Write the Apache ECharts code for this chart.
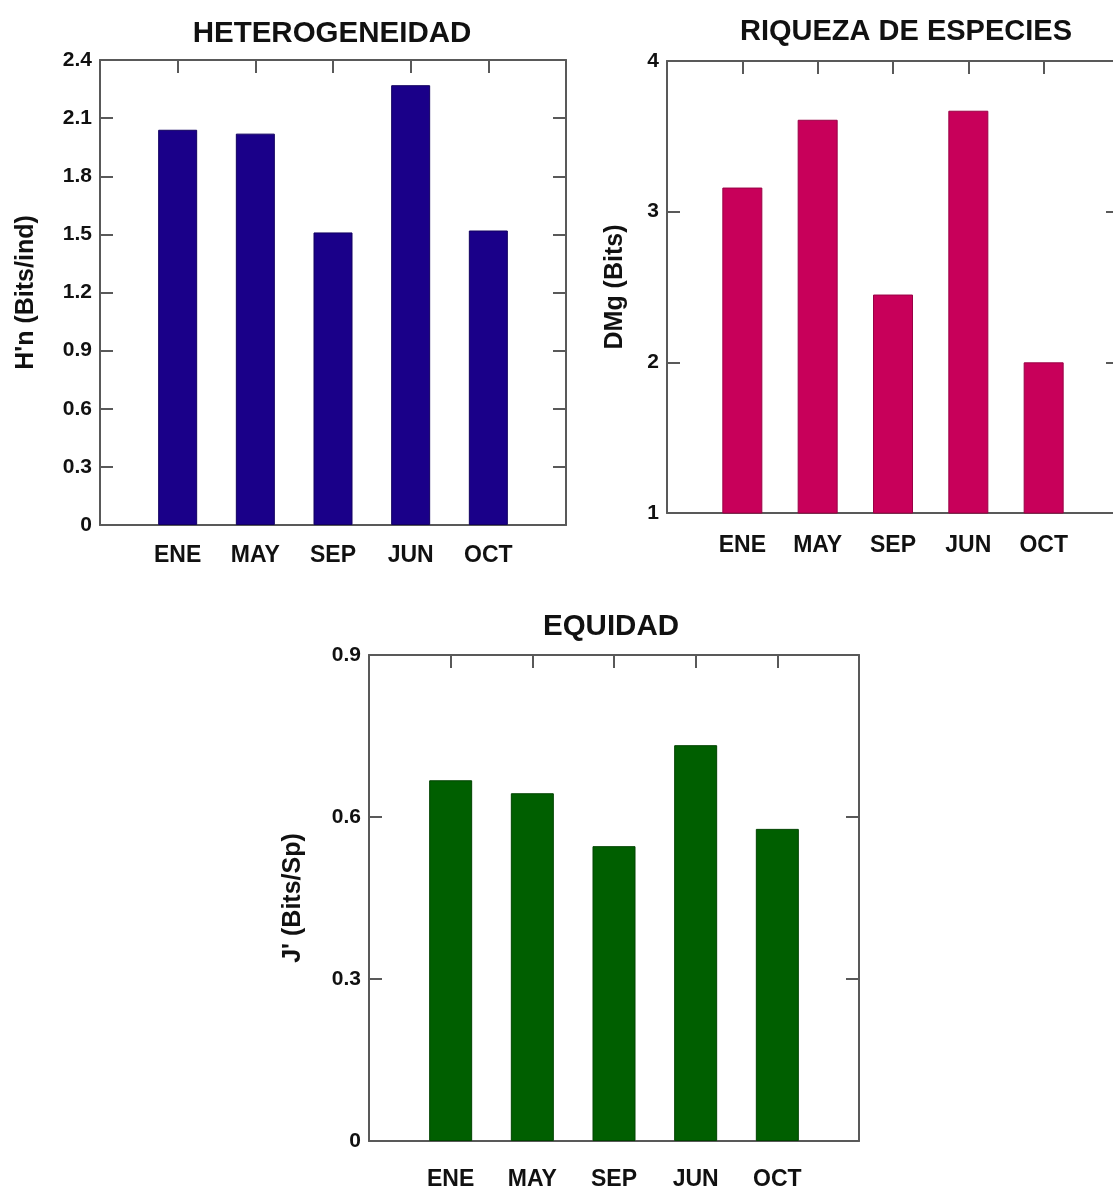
<!DOCTYPE html>
<html>
<head>
<meta charset="utf-8">
<script src="https://cdn.jsdelivr.net/npm/echarts@6/dist/echarts.min.js"></script>
<style>
  html, body { margin: 0; padding: 0; background: #ffffff; overflow: hidden; }
  /* canvas runs a little past the right edge so the richness frame is cropped there */
  #chart { width: 1125px; height: 1191px; }
</style>
</head>
<body>
<div id="chart"></div>
<script>
// Sampling months (in plotting order)
const months = ['ENE', 'MAY', 'SEP', 'JUN', 'OCT'];

// Shannon heterogeneity H'n (Bits/ind)
const heterogeneidad = [2.04, 2.02, 1.51, 2.27, 1.52];
// Margalef species richness DMg (Bits)
const riqueza = [3.16, 3.61, 2.45, 3.67, 2.00];
// Pielou evenness J' (Bits/Sp)
const equidad = [0.668, 0.644, 0.546, 0.733, 0.578];

// Y-axis ranges / tick steps for each panel
const hTicks = { min: 0, max: 2.4, step: 0.3 };
const rTicks = { min: 1, max: 4, step: 1 };
const eTicks = { min: 0, max: 0.9, step: 0.3 };

const FONT = '"Liberation Sans", Arial, sans-serif';
const AXIS_COLOR = '#595959';

const panels = [
  { title: 'HETEROGENEIDAD', name: "H'n (Bits/ind)", data: heterogeneidad, ticks: hTicks,
    color: '#1a0089', border: '#120060', grid: { left: 100, top: 60, width: 466, height: 465 },
    titlePos: { x: 327, y: 14 }, titleSize: 29.5, nameGap: 61, labelGap: 19, barWidth: 39 },
  { title: 'RIQUEZA DE ESPECIES', name: 'DMg (Bits)', data: riqueza, ticks: rTicks,
    color: '#c8005a', border: '#9a0045', grid: { left: 667, top: 61, width: 452, height: 452 },
    titlePos: { x: 901, y: 12 }, titleSize: 29, nameGap: 39, labelGap: 21, barWidth: 40 },
  { title: 'EQUIDAD', name: "J' (Bits/Sp)", data: equidad, ticks: eTicks,
    color: '#005f00', border: '#004400', grid: { left: 369, top: 655, width: 490, height: 486 },
    titlePos: { x: 606, y: 607 }, titleSize: 29.5, nameGap: 63, labelGap: 27, barWidth: 43 }
];

const option = {
  backgroundColor: '#ffffff',
  animation: false,
  title: [], grid: [], xAxis: [], yAxis: [], series: []
};

panels.forEach((p, i) => {
  option.title.push({
    text: p.title, left: p.titlePos.x, top: p.titlePos.y, textAlign: 'center',
    textStyle: { fontFamily: FONT, fontWeight: 'bold', fontSize: p.titleSize, color: '#111' }
  });
  option.grid.push(Object.assign({ containLabel: false }, p.grid));

  const lineStyle = { color: AXIS_COLOR, width: 2 };
  const frameLine = { show: true, onZero: false, lineStyle };
  // bottom x-axis with month labels, no ticks
  option.xAxis.push({
    type: 'value', gridIndex: i, position: 'bottom', min: 0, max: months.length + 1, interval: 1,
    axisLine: frameLine, axisTick: { show: false }, splitLine: { show: false },
    axisLabel: {
      margin: p.labelGap, fontFamily: FONT, fontWeight: 'bold', fontSize: 23, color: '#111',
      formatter: v => months[v - 1] || ''
    }
  });
  // top x-axis: frame with inward ticks at each month
  option.xAxis.push({
    type: 'value', gridIndex: i, position: 'top', min: 0, max: months.length + 1, interval: 1,
    axisLine: frameLine, splitLine: { show: false }, axisLabel: { show: false },
    axisTick: { show: true, inside: true, length: 13, lineStyle }
  });
  // left y-axis
  option.yAxis.push({
    type: 'value', gridIndex: i, position: 'left', min: p.ticks.min, max: p.ticks.max, interval: p.ticks.step,
    name: p.name, nameLocation: 'middle', nameGap: p.nameGap, nameRotate: 90,
    nameTextStyle: { fontFamily: FONT, fontWeight: 'bold', fontSize: 25, color: '#111' },
    axisLine: frameLine, splitLine: { show: false },
    axisTick: { show: true, inside: true, length: 13, lineStyle },
    axisLabel: {
      margin: 8, fontFamily: FONT, fontWeight: 'bold', fontSize: 21, color: '#111',
      formatter: v => String(+v.toFixed(2))
    }
  });
  // right y-axis: frame with inward ticks
  option.yAxis.push({
    type: 'value', gridIndex: i, position: 'right', min: p.ticks.min, max: p.ticks.max, interval: p.ticks.step,
    axisLine: frameLine, splitLine: { show: false }, axisLabel: { show: false },
    axisTick: { show: true, inside: true, length: 13, lineStyle }
  });

  option.series.push({
    type: 'bar', xAxisIndex: 2 * i, yAxisIndex: 2 * i, barWidth: p.barWidth,
    data: p.data.map((v, k) => [k + 1, v]),
    itemStyle: { color: p.color, borderColor: p.border, borderWidth: 1 }
  });
});

echarts.init(document.getElementById('chart'), null, { renderer: 'canvas' }).setOption(option);
</script>
</body>
</html>
